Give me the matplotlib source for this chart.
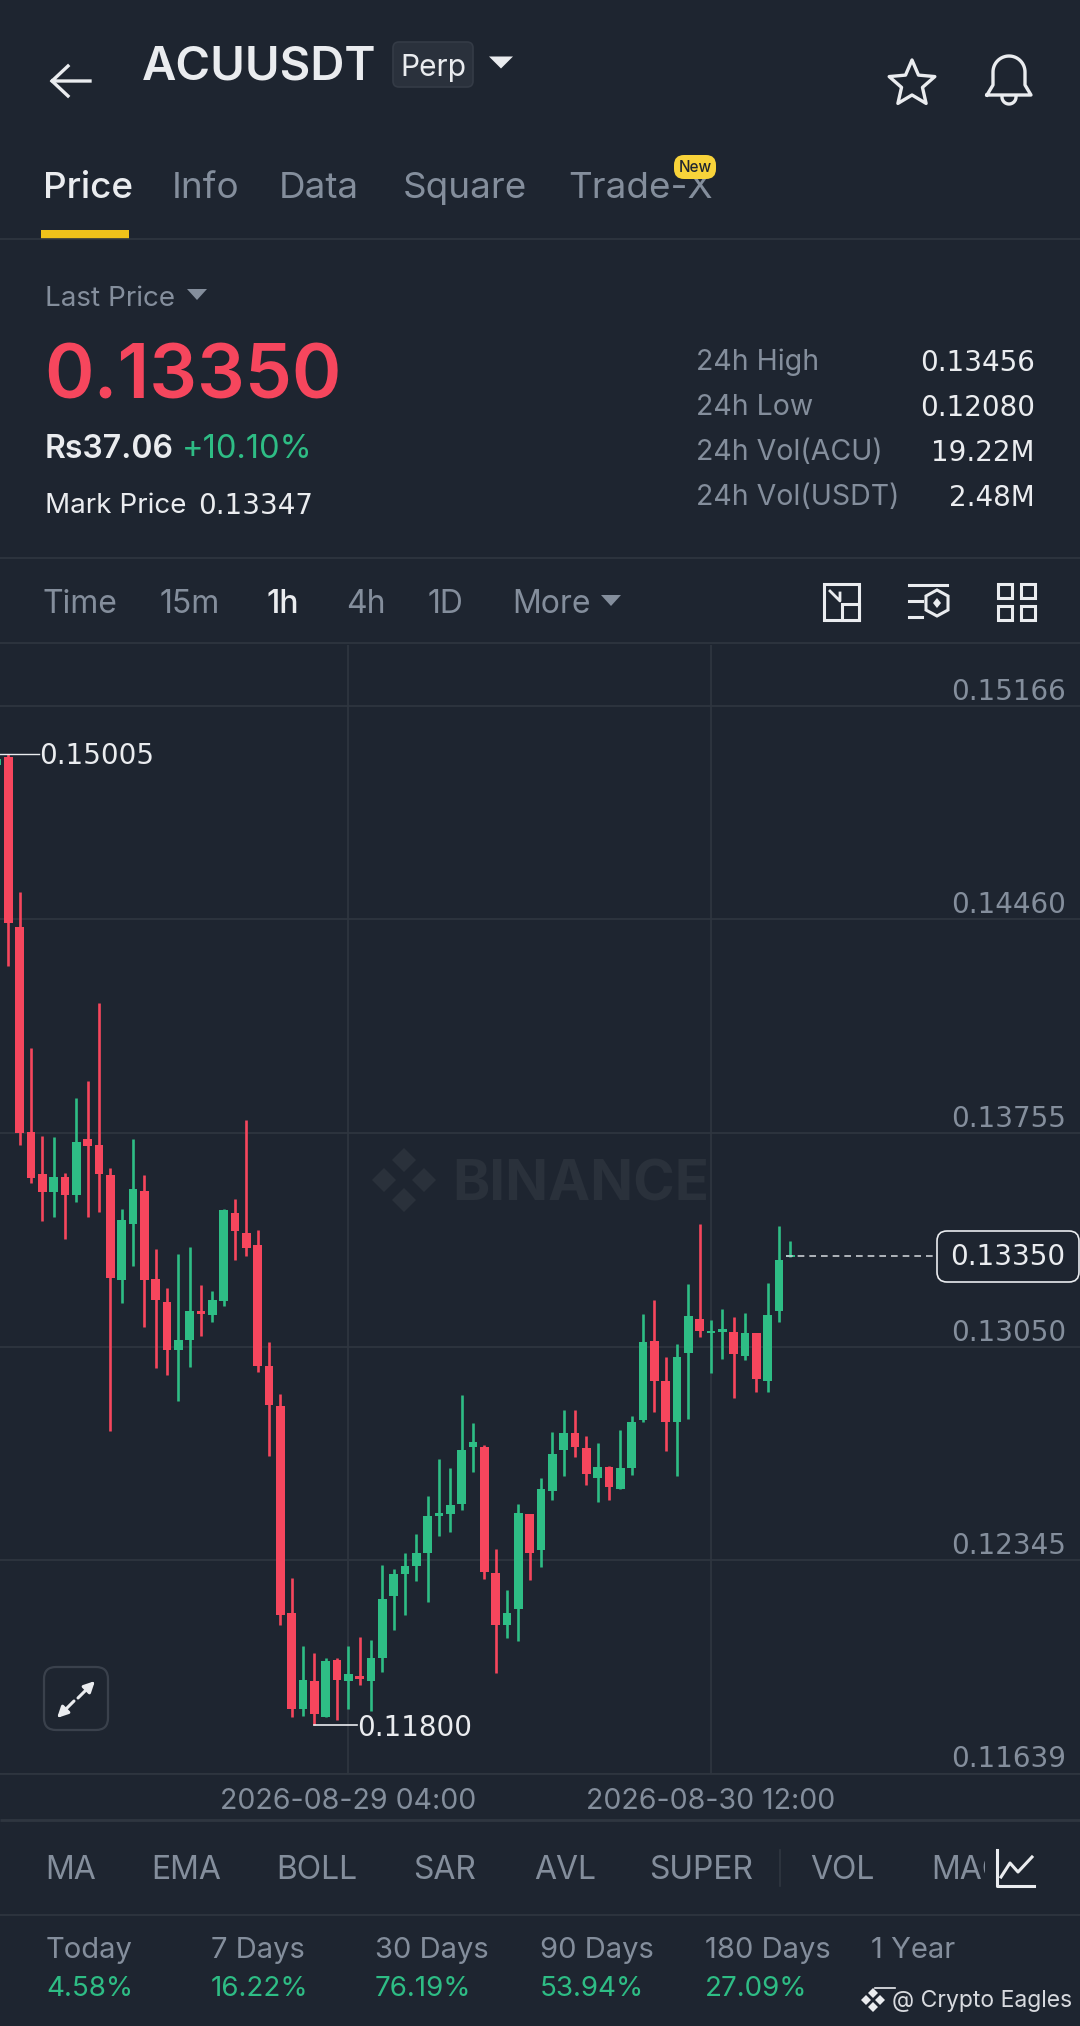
import numpy as np
import matplotlib
matplotlib.use("Agg")
from matplotlib import pyplot as plt
from matplotlib.patches import FancyBboxPatch, Rectangle, Polygon

# hourly candles, prices x 1e5 (first one is cut off by the left edge)
opens = [14970, 14995, 14436, 13759, 13620, 13561, 13611, 13550, 13734, 13715, 13616, 13270, 13453, 13564, 13273,
         13198, 13039, 13073, 13168, 13154, 13200, 13491, 13426, 13386, 12986, 12854, 12171, 11854, 11946, 11827,
         12016, 11946, 11963, 11946, 12023, 12227, 12299, 12327, 12370, 12492, 12497, 12529, 12717, 12719, 12304,
         12131, 12184, 12497, 12380, 12573, 12709, 12765, 12715, 12616, 12651, 12581, 12649, 12808, 13068, 12936,
         12802, 13029, 13141, 13095, 13098, 13098, 13019, 13096, 12936, 13169, 13347]
closes = [14990, 14447, 13756, 13605, 13559, 13609, 13550, 13724, 13712, 13620, 13277, 13468, 13569, 13270, 13204,
          13039, 13073, 13168, 13159, 13204, 13502, 13432, 13375, 12986, 12857, 12165, 11854, 11948, 11837, 12012,
          11948, 11969, 11953, 12022, 12217, 12299, 12327, 12370, 12491, 12501, 12527, 12709, 12735, 12307, 12131,
          12171, 12501, 12369, 12580, 12696, 12765, 12717, 12628, 12651, 12585, 12649, 12802, 13064, 12938, 12802,
          13014, 13152, 13103, 13103, 13107, 13027, 13096, 12943, 13153, 13337, 13350]
highs = [15000, 15005, 14550, 14037, 13746, 13741, 13624, 13870, 13928, 14185, 13640, 13503, 13734, 13616, 13372,
         13244, 13357, 13380, 13254, 13234, 13503, 13537, 13798, 13436, 13065, 12895, 12286, 12062, 12040, 12023,
         12023, 12063, 12092, 12083, 12330, 12316, 12369, 12431, 12557, 12679, 12649, 12891, 12799, 12726, 12382,
         12247, 12529, 12497, 12617, 12768, 12841, 12841, 12756, 12732, 12656, 12776, 12822, 13158, 13204, 13016,
         13057, 13257, 13456, 13138, 13173, 13146, 13161, 13096, 13260, 13449, 13399]
lows = [14950, 14306, 13715, 13589, 13465, 13479, 13406, 13528, 13479, 13495, 12772, 13195, 13317, 13115, 12978,
        12957, 12870, 12982, 13085, 13131, 13184, 13336, 13349, 12966, 12689, 12131, 11828, 11832, 11800, 11827,
        11816, 11855, 11932, 11847, 11977, 12116, 12165, 12276, 12208, 12426, 12438, 12511, 12637, 12284, 11971,
        12089, 12078, 12280, 12321, 12542, 12623, 12686, 12593, 12537, 12544, 12580, 12626, 12802, 12834, 12706,
        12623, 12811, 13082, 12963, 13009, 12880, 13007, 12900, 12900, 13131, 13347]

price_ticks = [0.15166, 0.14460, 0.13755, 0.13050, 0.12345, 0.11639]
date_pos = [30, 62]
date_labels = ["2026-08-29 04:00", "2026-08-30 12:00"]
max_price = 0.15005
min_price = 0.11800
last_price = 0.13350

tabs = ["Price", "Info", "Data", "Square", "Trade-X"]
tab_x = [43, 172, 279, 403, 568]
stat_names = ["24h High", "24h Low", "24h Vol(ACU)", "24h Vol(USDT)"]
stat_vals = ["0.13456", "0.12080", "19.22M", "2.48M"]
stat_y = [360, 405, 450, 495]
intervals = ["Time", "15m", "1h", "4h", "1D", "More"]
interval_x = [43, 160, 267, 346, 428, 512]
indicators = ["MA", "EMA", "BOLL", "SAR", "AVL", "SUPER", "VOL", "MACD"]
indicator_x = [45, 151, 276, 413, 534, 649, 810, 931]
periods = ["Today", "7 Days", "30 Days", "90 Days", "180 Days", "1 Year"]
period_vals = ["4.58%", "16.22%", "76.19%", "53.94%", "27.09%", ""]
period_x = [46, 211, 375, 540, 705, 871]

BG = "#1e2530"
RED = "#f6465d"
GREEN = "#2ebd85"
GREY = "#848e9c"
WHITE = "#eaecef"
LINE = "#2f3640"
NUM = "DejaVu Sans"  # wide even digits, closest to the app's number widths

plt.rcParams["font.family"] = ["Inter", "DejaVu Sans"]

W, H = 1080, 2026
fig = plt.figure(figsize=(W / 100, H / 100), dpi=100, facecolor=BG)

# chart panel
top, bottom = 645, 1774
ax = fig.add_axes([0, 1 - bottom / H, 1, (bottom - top) / H], facecolor=BG)
o = np.array(opens) / 1e5
c = np.array(closes) / 1e5
hi = np.array(highs) / 1e5
lo = np.array(lows) / 1e5
x = np.arange(len(o)) - 1
colors = [GREEN if b >= a else RED for a, b in zip(o, c)]

ax.set_xticks(date_pos)
ax.set_xticklabels(date_labels, color=GREY, fontsize=20.5)
ax.set_yticks(price_ticks)
ax.tick_params(axis="both", length=0, labelleft=False)
ax.tick_params(axis="x", pad=10)
ax.grid(True, color=LINE, lw=1.2)
ax.set_axisbelow(True)
for s in ax.spines.values():
    s.set_visible(False)

ax.vlines(x, lo, hi, colors=colors, lw=1.9, zorder=3)
ax.bar(x, np.maximum(np.abs(c - o), 0.00006), bottom=np.minimum(o, c), width=0.77, color=colors, lw=0, zorder=3)
ax.set_xlim(-0.735, 94.56)
ax.set_ylim(0.11639, 0.15366)

# price scale sits just above each grid line
for i, p in enumerate(price_ticks):
    ax.annotate(f"{p:.5f}", xy=(1, p), xycoords=("axes fraction", "data"), xytext=(-14, 14 if i < 5 else 15),
                textcoords="offset pixels", ha="right", va="center", color=GREY, fontsize=20, family=NUM)

# high / low markers
ax.plot([-0.735, 2.7], [max_price, max_price], color=WHITE, lw=1, zorder=4)
ax.text(2.7, max_price - 0.00007, f"{max_price:.5f}", color=WHITE, fontsize=20, va="center", zorder=5, family=NUM)
ax.plot([27, 30.8], [min_price, min_price], color=WHITE, lw=1.2, zorder=4)
ax.text(30.8, min_price - 0.00008, f"{min_price:.5f}", color=WHITE, fontsize=20, va="center", zorder=5, family=NUM)

# last price line
ax.plot([68.6, 81.9], [last_price, last_price], color="#c8ccd2", lw=1.2, ls=(0, (4, 3)), zorder=4)

# overlay in screen pixels for the app chrome
ui = fig.add_axes([0, 0, 1, 1], facecolor="none", zorder=5)
ui.set_xlim(0, W)
ui.set_ylim(H, 0)
ui.axis("off")


def txt(px, py, s, size=21, color=WHITE, ha="left", weight="normal", **kw):
    ui.text(px, py + 2.5, s, fontsize=size, color=color, ha=ha, va="center", fontweight=weight, **kw)


def hline(py, x0=0, x1=W, color=LINE, lw=1.2):
    ui.plot([x0, x1], [py, py], color=color, lw=lw, solid_capstyle="butt")


def tri(px, py, w=11, h=10, color=GREY):
    ui.add_patch(Polygon([(px - w, py - h / 2), (px + w, py - h / 2), (px, py + h / 2 + 3)], closed=True, fc=color, ec="none"))


def rbox(x0, y0, w, h, r, fc="none", ec=LINE, lw=1.2, z=2):
    ui.add_patch(FancyBboxPatch((x0 + r, y0 + r), w - 2 * r, h - 2 * r, boxstyle=f"round,pad={r},rounding_size={r}",
                                fc=fc, ec=ec, lw=lw, zorder=z))


# header
ui.plot([90, 52, 68], [81, 81, 66], color=WHITE, lw=2.4)
ui.plot([52, 68], [81, 96], color=WHITE, lw=2.4)
txt(142, 65, "ACUUSDT", 34, weight="semibold")
rbox(393, 42, 80, 45, 6, fc="#2a313c", ec="#343b46")
txt(433, 65, "Perp", 21.5, ha="center", zorder=3)
tri(501, 61, 12, 9, WHITE)
# star
ang = np.pi / 2 + np.arange(10) * np.pi / 5
rad = np.where(np.arange(10) % 2 == 0, 24, 11)
ui.add_patch(Polygon(np.c_[912 + rad * np.cos(ang), 84 - rad * np.sin(ang)], closed=True, fc="none", ec=WHITE, lw=2.4, joinstyle="round"))
# bell
t = np.linspace(0, np.pi, 30)
bx = np.r_[987, 993, 993 + 16 * (1 - np.cos(t)), 1025, 1031, 987]
by = np.r_[95, 85, 72 - 16 * np.sin(t), 85, 95, 95]
ui.plot(bx, by, color=WHITE, lw=2.4, solid_joinstyle="round")
ui.plot(1009 + 7 * np.cos(t), 97 + 7 * np.sin(t), color=WHITE, lw=2.4)

# tabs
for i, (s, px) in enumerate(zip(tabs, tab_x)):
    txt(px, 186, s, 26.5, WHITE if i == 0 else GREY, weight="medium" if i == 0 else "normal")
ui.add_patch(Rectangle((41, 230), 88, 9, fc="#f0c21a", ec="none"))
hline(239)
rbox(674, 155, 42, 24, 10, fc="#f8d33a", ec="none", z=6)
ui.text(695, 167.5, "New", fontsize=11, color="#202630", ha="center", va="center", fontweight="medium", zorder=7)

# price block
txt(45, 296, "Last Price", 20, GREY)
tri(197, 293, 10, 8)
txt(44, 376, "0.13350", 54, RED, weight="semibold")
txt(45, 447, "Rs37.06", 23, weight="semibold")
txt(182, 447, "+10.10%", 23.5, GREEN)
txt(45, 503, "Mark Price", 20)
txt(198, 503, "0.13347", 20, family=NUM)
for s, v, py in zip(stat_names, stat_vals, stat_y):
    txt(696, py, s, 20.5, GREY)
    txt(1035, py, v, 20, ha="right", family=NUM)
hline(558)

# interval row
for s, px in zip(intervals, interval_x):
    txt(px, 602, s, 23, WHITE if s == "1h" else GREY, weight="medium" if s == "1h" else "normal")
tri(611, 599, 10, 8)
# layout icons
ui.add_patch(Rectangle((824, 584), 35, 36, fc="none", ec=WHITE, lw=2.2))
ui.add_patch(Rectangle((842, 604), 17, 16, fc=BG, ec=WHITE, lw=2.2))
ui.plot([830, 840, 840], [591, 601, 593], color=WHITE, lw=2)
ui.plot([909, 947], [585, 585], color=WHITE, lw=2.2)
ui.plot([909, 922], [601, 601], color=WHITE, lw=2.2)
ui.plot([909, 922], [617, 617], color=WHITE, lw=2.2)
ui.add_patch(Polygon([(937, 590), (948, 596), (948, 610), (937, 616), (926, 610), (926, 596)], closed=True, fc="none", ec=WHITE, lw=2.2))
ui.add_patch(Polygon([(937, 598), (941, 603), (937, 608), (933, 603)], closed=True, fc=WHITE, ec="none"))
for bx0, by0 in [(998, 584), (1021, 584), (998, 606), (1021, 606)]:
    ui.add_patch(Rectangle((bx0, by0), 14, 14, fc="none", ec=WHITE, lw=2.2))
hline(643)

# watermark
txt(452, 1183, "BINANCE", 40.5, "#2a313b", weight="bold", zorder=0.5)
for dx, dy in [(404, 1160), (384, 1180), (424, 1180), (404, 1200)]:
    ui.add_patch(Polygon([(dx, dy - 12), (dx + 12, dy), (dx, dy + 12), (dx - 12, dy)], closed=True, fc="#2a313b", ec="none", zorder=0.5))

# last price tag
rbox(937, 1231, 142, 51, 10, fc=BG, ec=WHITE, lw=1.2)
ui.text(1008, 1257, "0.13350", fontsize=20, color=WHITE, ha="center", va="center", zorder=6, family=NUM)

# expand button
rbox(44, 1667, 64, 63, 12, ec="#3a414c", lw=1.6)
ui.annotate("", xy=(95, 1681), xytext=(78, 1698), arrowprops=dict(arrowstyle="-|>", color=WHITE, lw=2.2, mutation_scale=16, shrinkA=0, shrinkB=0))
ui.annotate("", xy=(57, 1718), xytext=(74, 1701), arrowprops=dict(arrowstyle="-|>", color=WHITE, lw=2.2, mutation_scale=16, shrinkA=0, shrinkB=0))

# indicator row
hline(1774)
hline(1820, lw=2)
for s, px in zip(indicators, indicator_x):
    txt(px, 1868, s, 23, GREY)
ui.plot([780, 780], [1850, 1886], color=LINE, lw=1.2)
ui.add_patch(Rectangle((985, 1825), 95, 88, fc=BG, ec="none", zorder=4))
ui.plot([997, 997, 1034], [1850, 1886, 1886], color=WHITE, lw=2.2, zorder=5)
ui.plot([1001, 1010, 1018, 1032], [1877, 1863, 1872, 1857], color=WHITE, lw=2.2, zorder=5)
hline(1915)

# performance row
for s, v, px in zip(periods, period_vals, period_x):
    txt(px, 1948, s, 21, GREY)
    if v:
        txt(px, 1986, v, 20, GREEN)

# screenshot credit
for dx, dy in [(873, 1993), (866, 2000), (880, 2000), (873, 2007)]:
    ui.add_patch(Polygon([(dx, dy - 5), (dx + 5, dy), (dx, dy + 5), (dx - 5, dy)], closed=True, fc=WHITE, ec="none"))
ui.plot([875, 895], [1988, 1988], color=WHITE, lw=1.2)
txt(892, 1998, "@ Crypto Eagles", 16.5, "#d8dadf")

fig.savefig("out.png", dpi=100, facecolor=BG)
